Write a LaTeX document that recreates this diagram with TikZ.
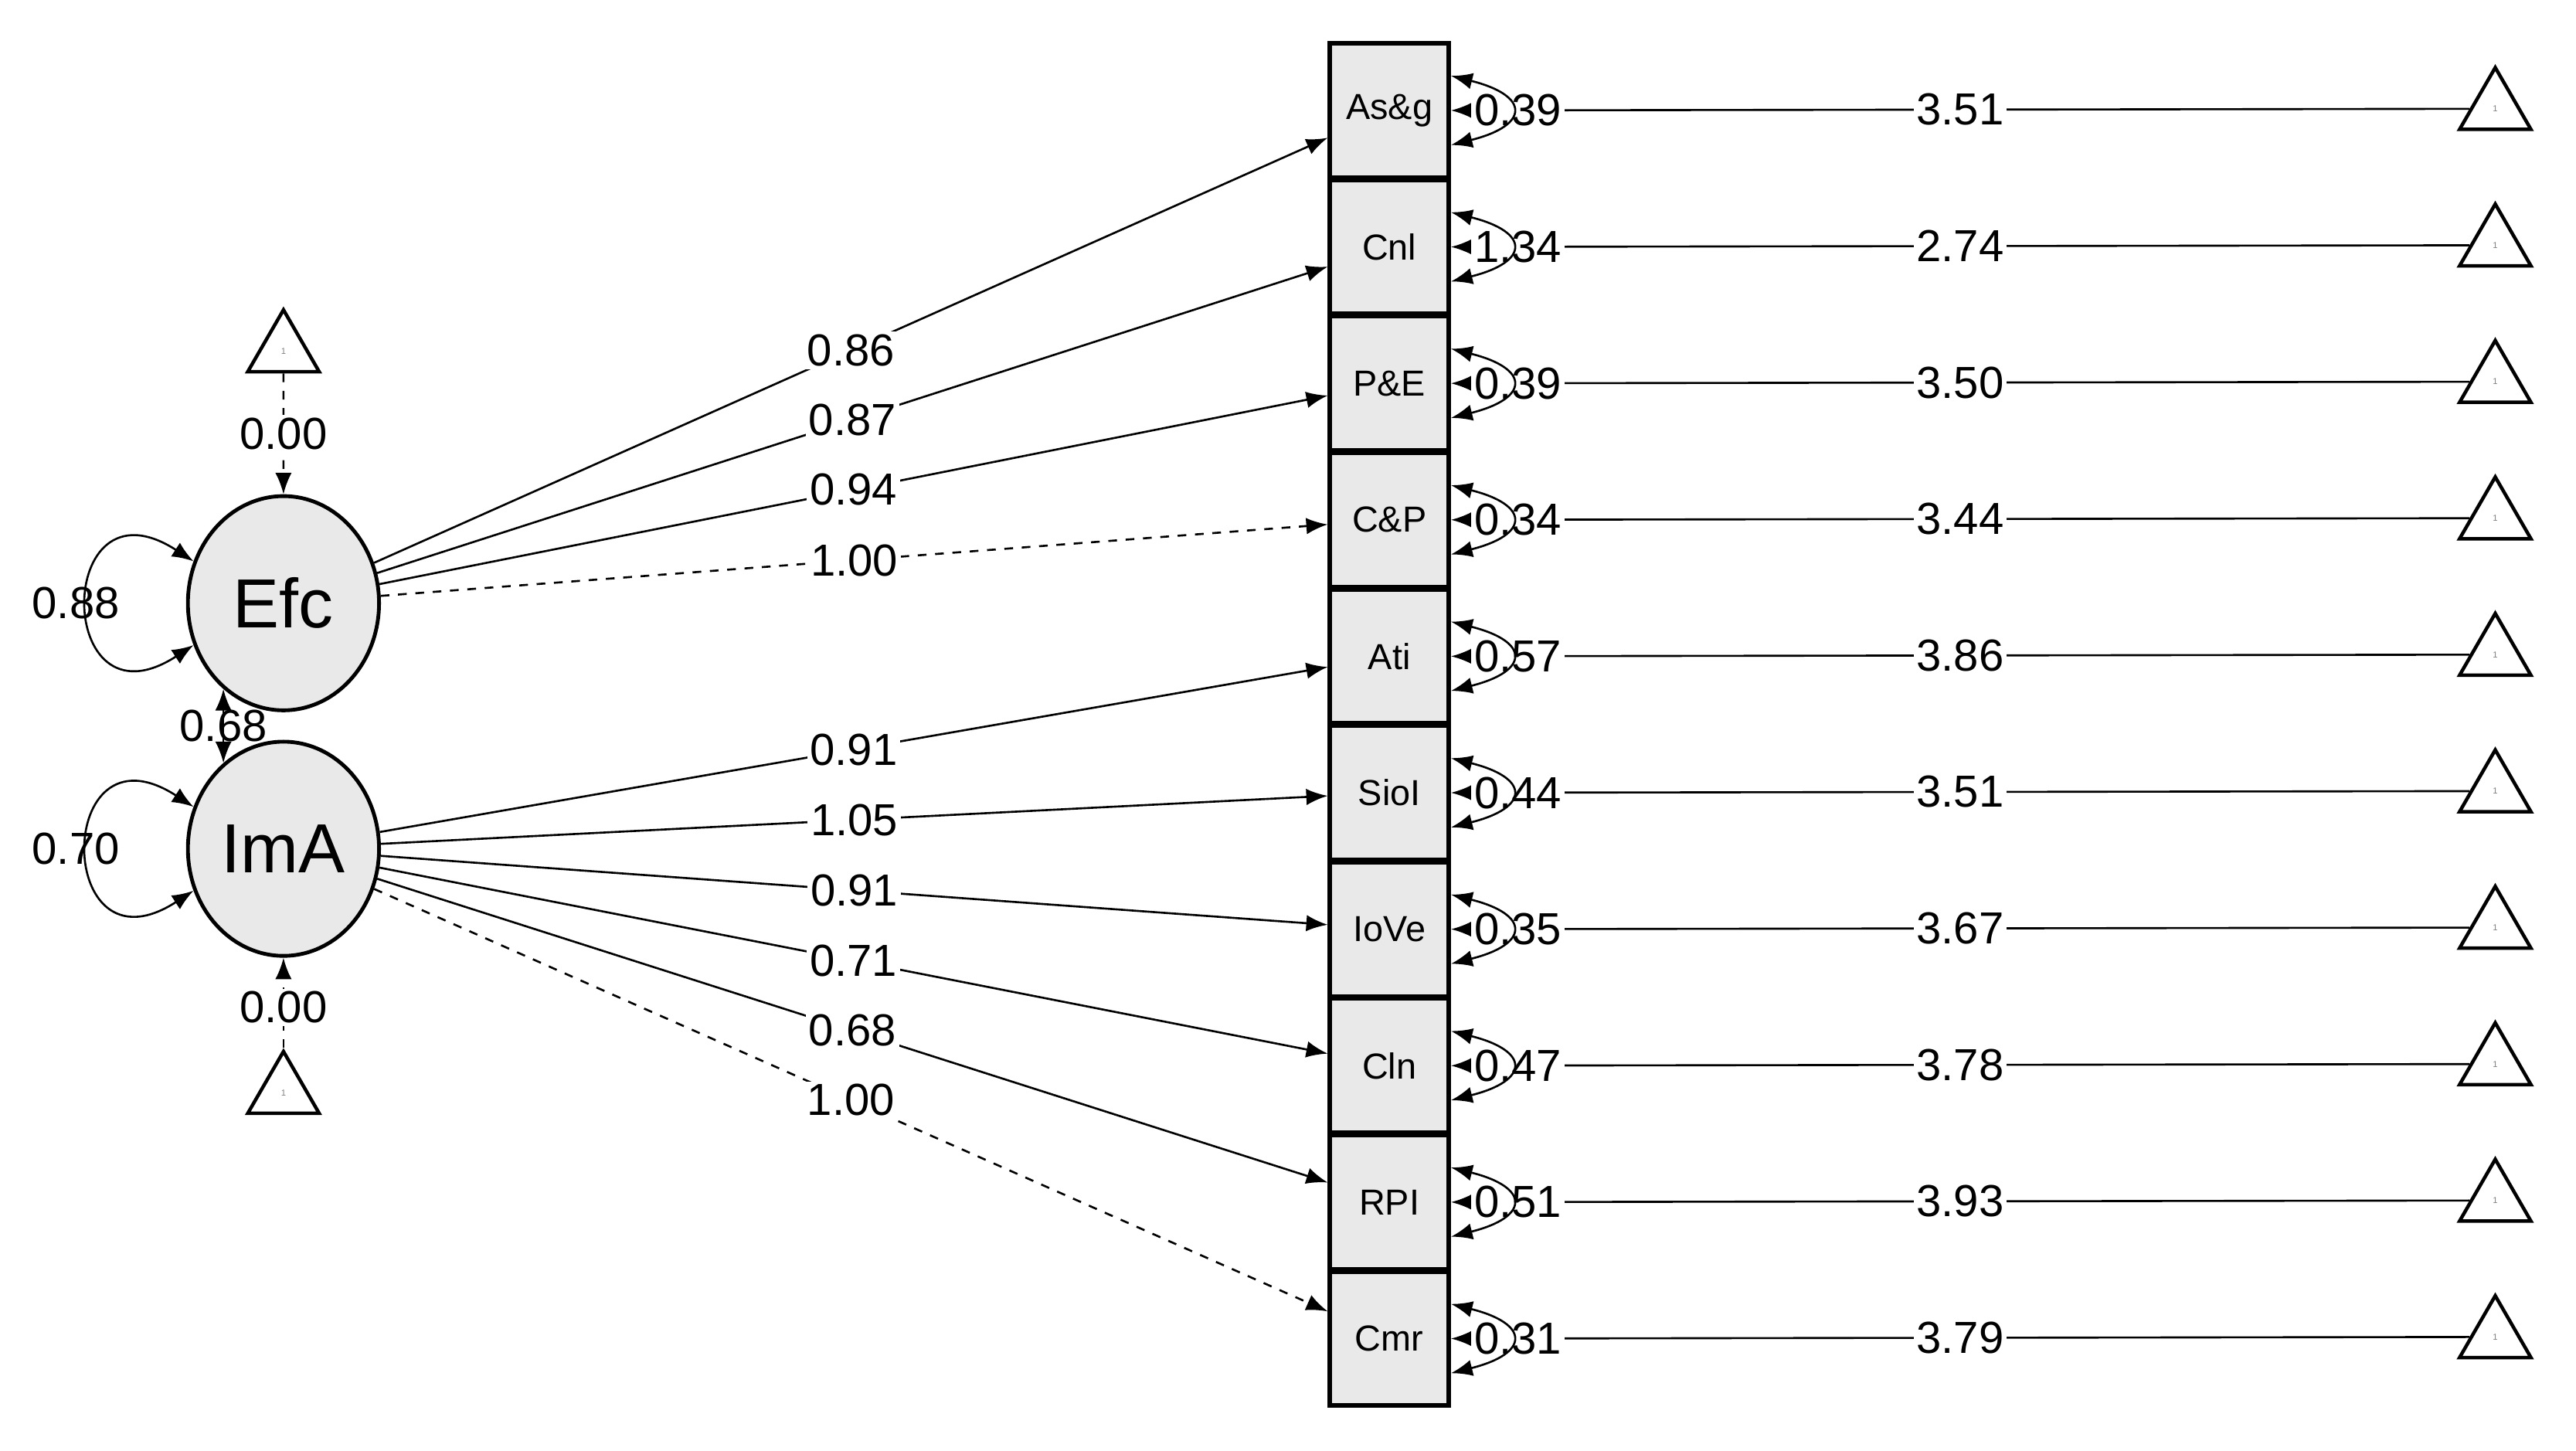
\documentclass[tikz,border=0pt]{standalone}
\usepackage{fontspec}
\setmainfont{Liberation Sans}
\usetikzlibrary{arrows.meta,shapes.geometric}
\begin{document}
\begin{tikzpicture}[x=0.02cm,y=-0.02cm,
  tip/.style={-{Latex[length=0.26cm,width=0.2cm]}},
  dtip/.style={{Latex[length=0.26cm,width=0.2cm]}-{Latex[length=0.26cm,width=0.2cm]}},
  ln/.style={line width=0.7pt},
  lat/.style={ellipse,draw,line width=1.3pt,fill=gray!17,minimum width=2.32cm,minimum height=2.6cm,font=\fontsize{24}{24}\selectfont,inner sep=0pt},
  box/.style={rectangle,draw,line width=1.6pt,fill=gray!17,minimum width=1.44cm,minimum height=1.63cm,font=\fontsize{12.5}{12.5}\selectfont,inner sep=0pt},
  tri/.style={regular polygon,regular polygon sides=3,draw,line width=1.2pt,minimum size=1.0cm,inner sep=0pt,text=gray,font=\fontsize{3}{3}\selectfont},
  lab/.style={fill=white,inner sep=1pt,font=\fontsize{15.5}{15.5}\selectfont},
  labn/.style={inner sep=1pt,font=\fontsize{15.5}{15.5}\selectfont}]
\useasboundingbox (0,0) rectangle (1563,880);
\node[lat] (Efc) at (172,366) {Efc};
\node[lat] (ImA) at (172,515) {ImA};
\node[tri] (ta) at (172,213) {1};
\node[tri] (tb) at (172,663) {1};
\draw[ln,dashed,tip] (ta) -- node[lab]{0.00} (Efc);
\draw[ln,dashed,tip] (tb) -- node[lab,pos=0.45]{0.00} (ImA);
\draw[ln,dtip] (Efc.155) .. controls +(-85,-55) and +(-85,55) .. (Efc.205);
\draw[ln,dtip] (ImA.155) .. controls +(-85,-55) and +(-85,55) .. (ImA.205);
\node[labn] (v1) at (46,366) {0.88};
\node[labn] (v2) at (46,515) {0.70};
\draw[ln,dtip] (Efc.235) -- node[labn]{0.68} (ImA.125);
\foreach \i/\m/\v [evaluate=\i as \yy using 67+82.8*(\i-1)] in
 {1/3.51/0.39,2/2.74/1.34,3/3.50/0.39,4/3.44/0.34,5/3.86/0.57,6/3.51/0.44,7/3.67/0.35,8/3.78/0.47,9/3.93/0.51,10/3.79/0.31}{
  \node[box] (b\i) at (843,\yy) {};
  \node[tri] (t\i) at (1514,\yy-1) {1};
  \draw[ln,tip] (t\i) -- node[lab,pos=0.5]{\m} (b\i.east);
  \node[lab] (vv\i) at (921,\yy) {\v};
  \draw[ln,dtip] ([yshift=-0.42cm]b\i.east) .. controls +(48,-12) and +(48,12) .. ([yshift=0.42cm]b\i.east);
}
\foreach \i/\t in {1/As\&g,2/Cnl,3/P\&E,4/C\&P,5/Ati,6/SioI,7/IoVe,8/Cln,9/RPI,10/Cmr}{
  \node[font=\fontsize{12.5}{12.5}\selectfont] at (b\i) {\t};
}
\foreach \i/\w in {1/0.86,2/0.87,3/0.94}{
  \draw[ln,tip] (Efc) -- node[lab,pos=0.5]{\w} (b\i);
}
\draw[ln,dashed,tip] (Efc) -- node[lab,pos=0.5]{1.00} (b4);
\foreach \i/\w in {5/0.91,6/1.05,7/0.91,8/0.71,9/0.68}{
  \draw[ln,tip] (ImA) -- node[lab,pos=0.5]{\w} (b\i);
}
\draw[ln,dashed,tip] (ImA) -- node[lab,pos=0.5]{1.00} (b10);
\end{tikzpicture}
\end{document}
